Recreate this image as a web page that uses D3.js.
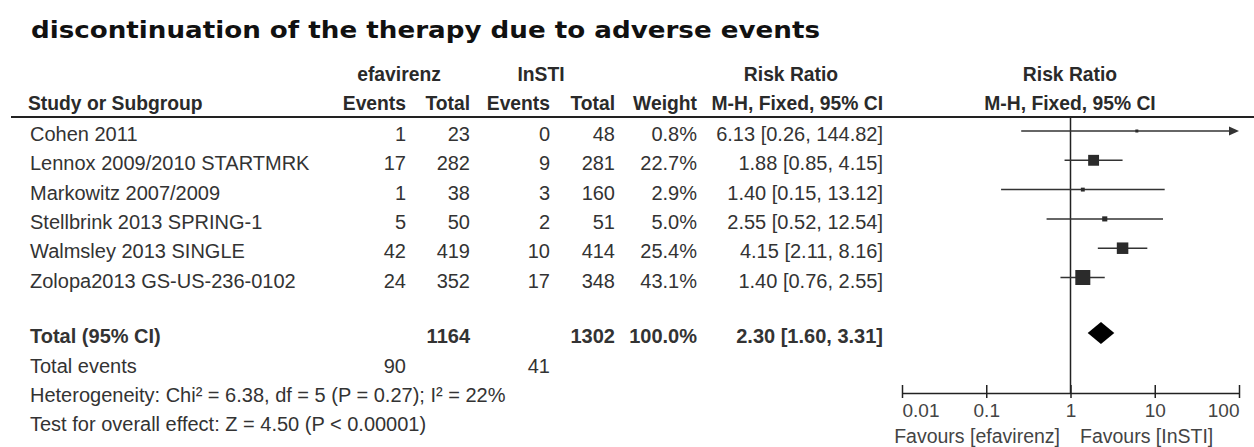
<!DOCTYPE html>
<html>
<head>
<meta charset="utf-8">
<script src="https://cdn.jsdelivr.net/npm/d3@7"></script>
<style>
  body { margin: 0; background: #fff; }
  svg text { font-family: "Liberation Sans", Arial, sans-serif; }
</style>
</head>
<body>
<svg id="chart" width="1254" height="447"></svg>
<script>
// study data
var studies = ['Cohen 2011', 'Lennox 2009/2010 STARTMRK', 'Markowitz 2007/2009',
  'Stellbrink 2013 SPRING-1', 'Walmsley 2013 SINGLE', 'Zolopa2013 GS-US-236-0102'];
var efaEvents = [1, 17, 1, 5, 42, 24];
var efaTotal = [23, 282, 38, 50, 419, 352];
var instiEvents = [0, 9, 3, 2, 10, 17];
var instiTotal = [48, 281, 160, 51, 414, 348];
var weights = [0.8, 22.7, 2.9, 5.0, 25.4, 43.1];
var rr = [6.13, 1.88, 1.40, 2.55, 4.15, 1.40];
var lower = [0.26, 0.85, 0.15, 0.52, 2.11, 0.76];
var upper = [144.82, 4.15, 13.12, 12.54, 8.16, 2.55];

// pooled
var totalEfa = 1164, totalInsti = 1302, eventsEfa = 90, eventsInsti = 41;
var pooled = { rr: 2.30, lo: 1.60, hi: 3.31 };

var ticks = [0.01, 0.1, 1, 10, 100];

var svg = d3.select('#chart');
var ink = '#333';

var x = d3.scaleLog().domain([0.01, 100]).range([902, 1239]);
var row = d3.scaleLinear().domain([0, 1]).range([141, 170.3]); // text baselines
var side = d3.scaleSqrt().domain([0, 43.1]).range([0, 15]);

// title
svg.append('text')
  .attr('x', 31).attr('y', 38)
  .attr('textLength', 789)
  .attr('lengthAdjust', 'spacingAndGlyphs')
  .style('font-family', '"DejaVu Sans", Verdana, sans-serif')
  .style('font-weight', 'bold')
  .style('font-size', '23px')
  .attr('fill', '#111')
  .text('discontinuation of the therapy due to adverse events');

// column headers
var cols = [
  {x: 406, anchor: 'end', h: 'Events'},
  {x: 470, anchor: 'end', h: 'Total'},
  {x: 550, anchor: 'end', h: 'Events'},
  {x: 615, anchor: 'end', h: 'Total'},
  {x: 697, anchor: 'end', h: 'Weight'},
  {x: 883, anchor: 'end', h: 'M-H, Fixed, 95% CI'}
];

function hdr(xp, yp, t, anchor){
  svg.append('text')
    .attr('x', xp).attr('y', yp)
    .attr('text-anchor', anchor || 'middle')
    .style('font-weight', 'bold')
    .style('font-size', '19.3px')
    .attr('fill', '#2a2a2a')
    .text(t);
}
hdr(399, 81, 'efavirenz');
hdr(541, 81, 'InSTI');
hdr(791, 81, 'Risk Ratio');
hdr(1070, 81, 'Risk Ratio');
hdr(28, 110, 'Study or Subgroup', 'start');
cols.forEach(function(c){ hdr(c.x, 110, c.h, c.anchor); });
hdr(1070, 110, 'M-H, Fixed, 95% CI');

// rule under header
svg.append('line')
  .attr('x1', 11).attr('x2', 1254)
  .attr('y1', 117).attr('y2', 117)
  .attr('stroke', '#222').attr('stroke-width', 2);

// study rows
function cell(xp, yp, t, anchor, bold){
  svg.append('text')
    .attr('x', xp).attr('y', yp)
    .attr('text-anchor', anchor)
    .style('font-size', '20px')
    .style('font-weight', bold ? 'bold' : 'normal')
    .attr('fill', ink)
    .text(t);
}

studies.forEach(function(s, i){
  var y = row(i);
  cell(30, y, s, 'start');
  cell(cols[0].x, y, efaEvents[i], 'end');
  cell(cols[1].x, y, efaTotal[i], 'end');
  cell(cols[2].x, y, instiEvents[i], 'end');
  cell(cols[3].x, y, instiTotal[i], 'end');
  cell(cols[4].x, y, weights[i].toFixed(1) + '%', 'end');
  cell(cols[5].x, y, rr[i].toFixed(2) + ' [' + lower[i].toFixed(2) + ', ' + upper[i].toFixed(2) + ']', 'end');
});

// totals
var yTot = 343;
cell(30, yTot, 'Total (95% CI)', 'start', true);
cell(cols[1].x, yTot, totalEfa, 'end', true);
cell(cols[3].x, yTot, totalInsti, 'end', true);
cell(cols[4].x, yTot, '100.0%', 'end', true);
cell(cols[5].x, yTot, pooled.rr.toFixed(2) + ' [' + pooled.lo.toFixed(2) + ', ' + pooled.hi.toFixed(2) + ']', 'end', true);
cell(30, yTot + 29.5, 'Total events', 'start');
cell(cols[0].x, yTot + 29.5, eventsEfa, 'end');
cell(cols[2].x, yTot + 29.5, eventsInsti, 'end');
cell(30, yTot + 59, 'Heterogeneity: Chi\u00b2 = 6.38, df = 5 (P = 0.27); I\u00b2 = 22%', 'start');
cell(30, yTot + 88, 'Test for overall effect: Z = 4.50 (P < 0.00001)', 'start');

// forest plot
var axisY = 393;
var plot = svg.append('g');

plot.append('line')
  .attr('x1', x(1)).attr('x2', x(1))
  .attr('y1', 117).attr('y2', axisY)
  .attr('stroke', '#222').attr('stroke-width', 1.5);

var dom = x.domain();
var idx = d3.range(studies.length);

plot.selectAll('.ci')
  .data(idx).enter()
  .append('line')
  .attr('class', 'ci')
  .attr('x1', function(i){ return x(Math.max(lower[i], dom[0])); })
  .attr('x2', function(i){ return upper[i] > dom[1] ? x(dom[1]) - 8 : x(upper[i]); })
  .attr('y1', function(i){ return row(i) - 10; })
  .attr('y2', function(i){ return row(i) - 10; })
  .attr('stroke', ink).attr('stroke-width', 1.5);

// arrows for CIs past the axis
plot.selectAll('.arrow')
  .data(idx.filter(function(i){ return upper[i] > dom[1]; })).enter()
  .append('path')
  .attr('class', 'arrow')
  .attr('d', function(i){
    var ax = x(dom[1]), ay = row(i) - 10;
    return 'M' + ax + ',' + ay + 'L' + (ax - 10) + ',' + (ay - 4.5) + 'L' + (ax - 10) + ',' + (ay + 4.5) + 'Z';
  })
  .attr('fill', ink);

plot.selectAll('.box')
  .data(idx).enter()
  .append('rect')
  .attr('class', 'box')
  .attr('x', function(i){ return x(rr[i]) - Math.max(side(weights[i]), 3) / 2; })
  .attr('y', function(i){ return row(i) - 10 - Math.max(side(weights[i]), 3) / 2; })
  .attr('width', function(i){ return Math.max(side(weights[i]), 3); })
  .attr('height', function(i){ return Math.max(side(weights[i]), 3); })
  .attr('fill', '#2b2b2b');

// pooled diamond
var dy = yTot - 10;
plot.append('path')
  .attr('d', 'M' + x(pooled.lo) + ',' + dy + 'L' + x(pooled.rr) + ',' + (dy - 11) +
    'L' + x(pooled.hi) + ',' + dy + 'L' + x(pooled.rr) + ',' + (dy + 11) + 'Z')
  .attr('fill', '#000');

// axis
var axis = d3.axisBottom(x)
  .tickValues(ticks)
  .tickFormat(function(d){ return String(d); })
  .tickSizeInner(5)
  .tickSizeOuter(0)
  .tickPadding(6);

var ag = plot.append('g')
  .attr('transform', 'translate(0,' + axisY + ')')
  .call(axis);
ag.select('.domain').attr('stroke', '#222').attr('stroke-width', 1.5);
ag.selectAll('.tick line').attr('y1', -8).attr('stroke', '#222').attr('stroke-width', 1.5);
ag.selectAll('.tick text')
  .style('font-family', '"Liberation Sans", Arial, sans-serif')
  .style('font-size', '19px')
  .attr('fill', '#444')
  .attr('text-anchor', function(d, i){ return i === 0 ? 'start' : (i === ticks.length - 1 ? 'end' : 'middle'); });

svg.append('text')
  .attr('x', 1060).attr('y', 443)
  .attr('text-anchor', 'end')
  .style('font-size', '19.5px').attr('fill', '#444')
  .text('Favours [efavirenz]');
svg.append('text')
  .attr('x', 1080).attr('y', 443)
  .attr('text-anchor', 'start')
  .style('font-size', '19.5px').attr('fill', '#444')
  .text('Favours [InSTI]');
</script>
</body>
</html>
